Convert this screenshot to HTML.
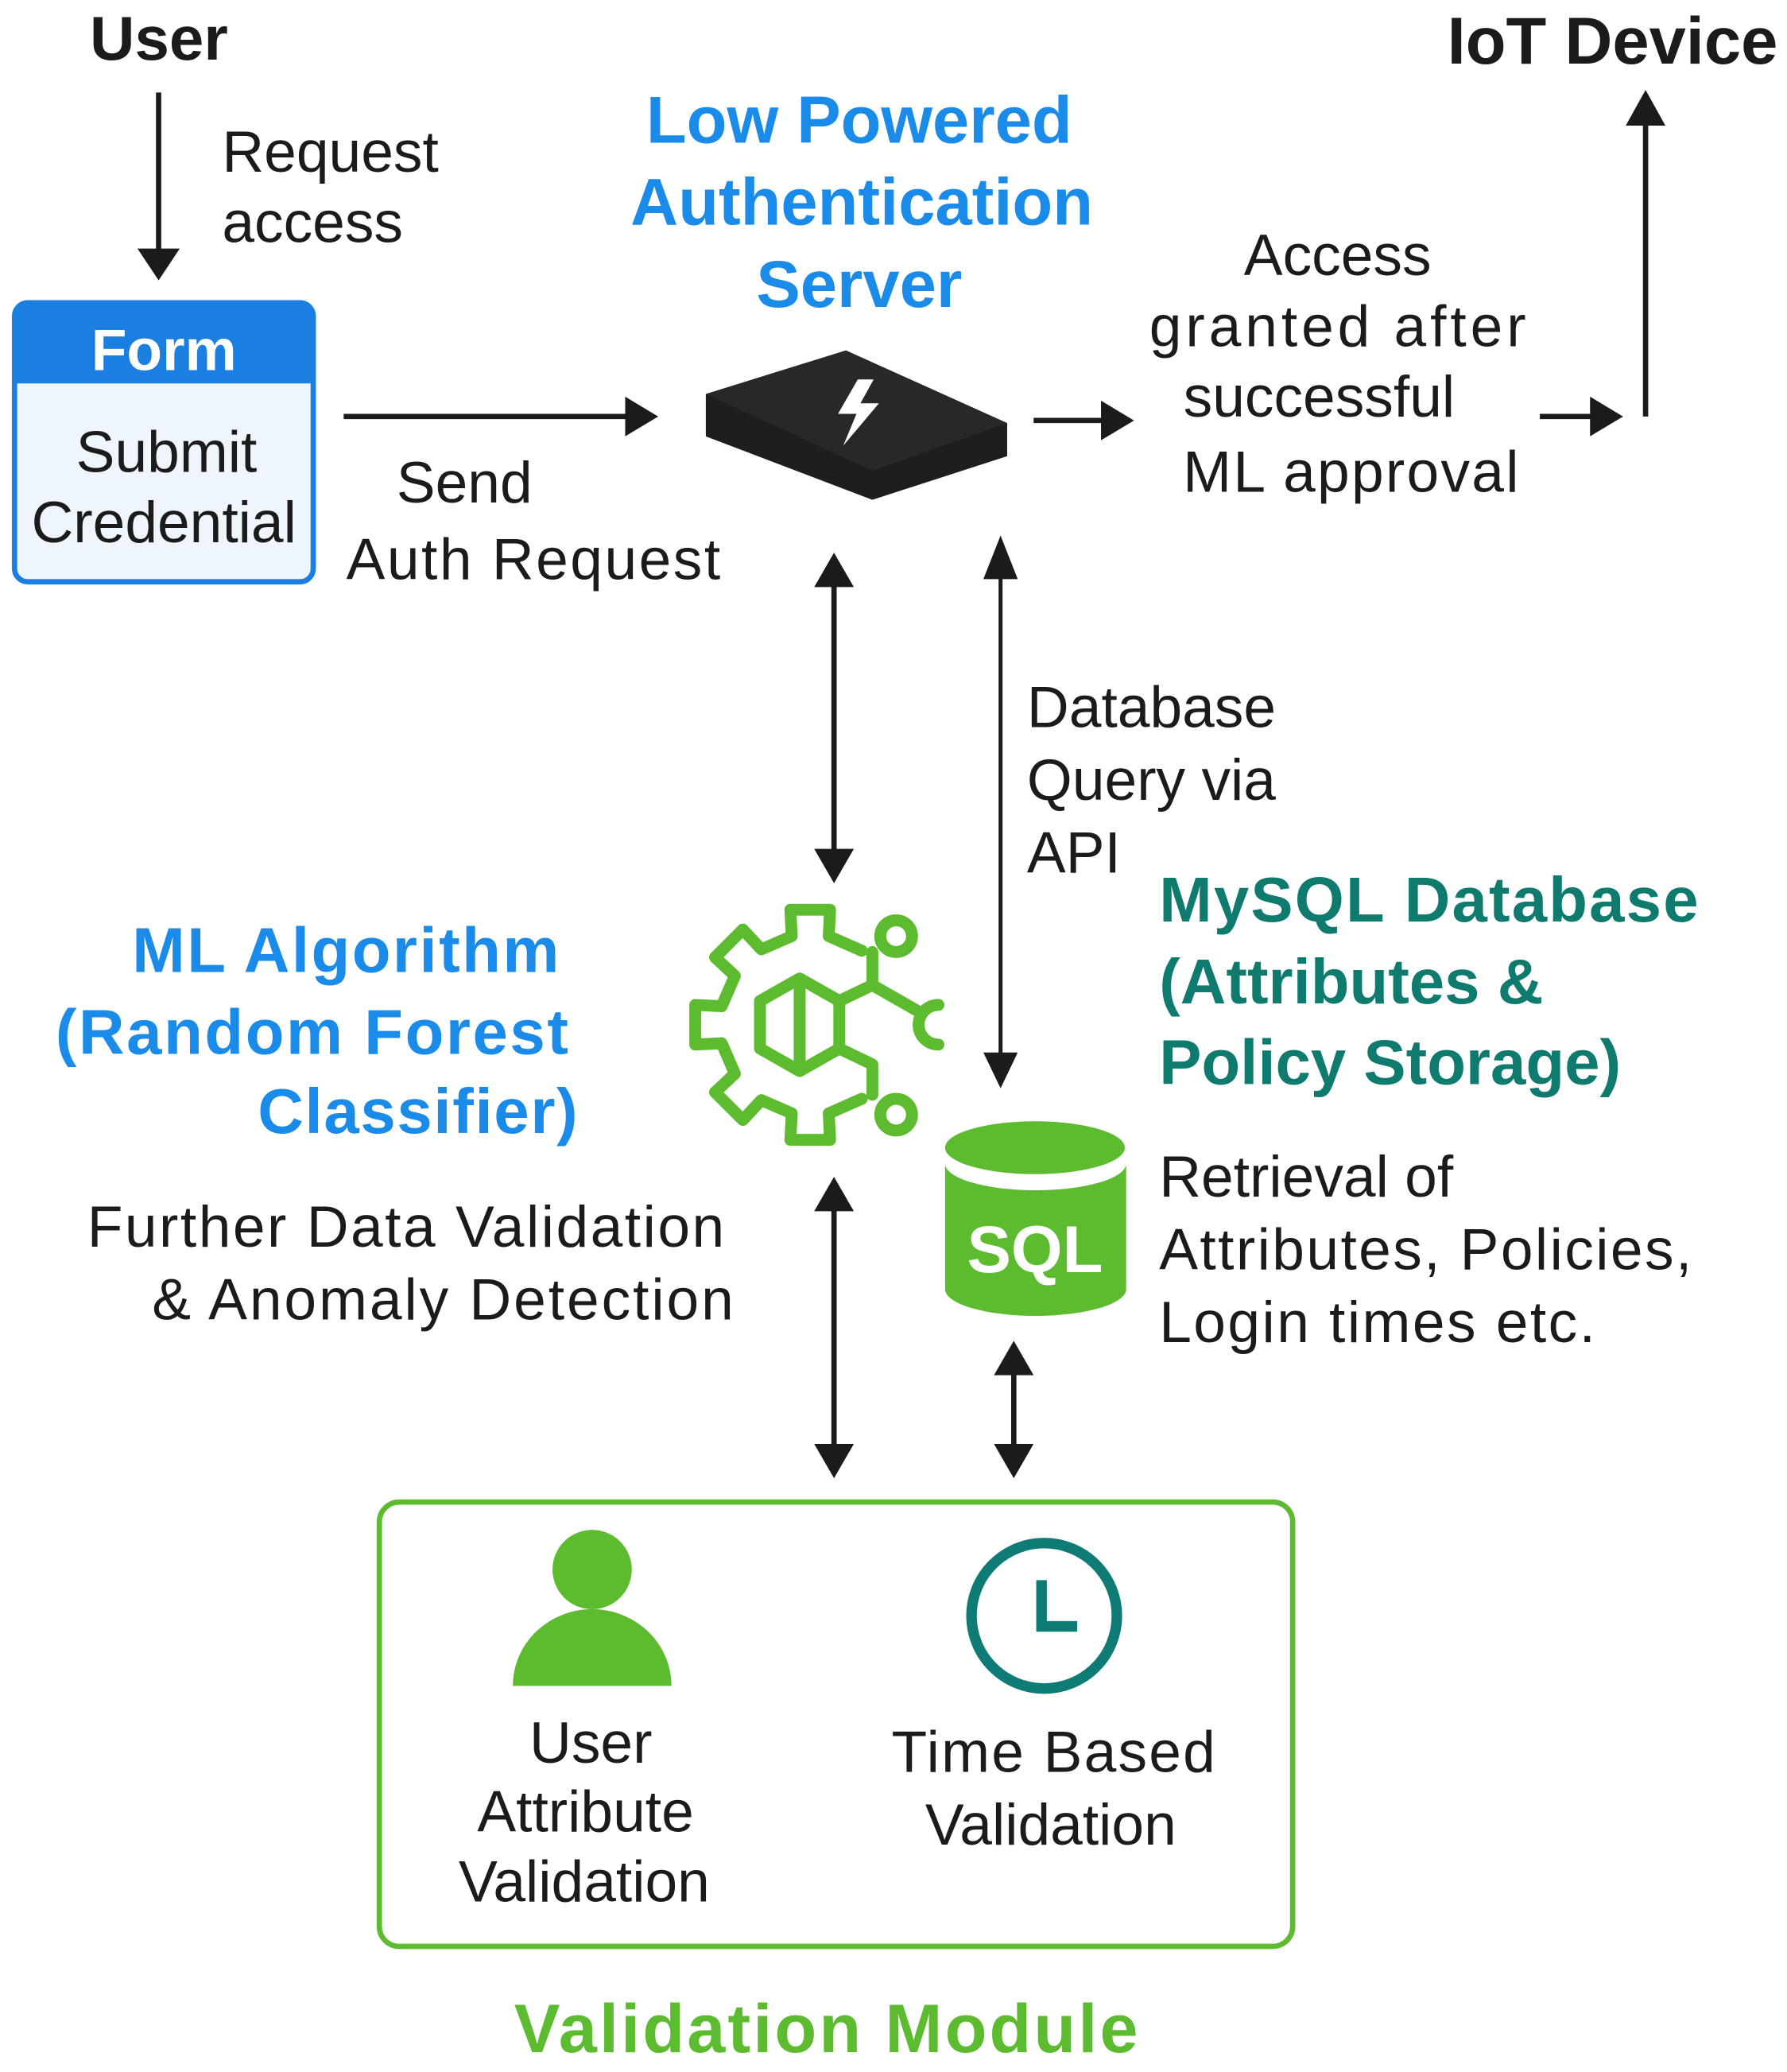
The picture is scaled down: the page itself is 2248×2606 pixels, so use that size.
<!DOCTYPE html>
<html><head><meta charset="utf-8"><style>
html,body{margin:0;padding:0;background:#fff;}
svg{display:block}
text{font-family:"Liberation Sans",sans-serif;}
</style></head><body>
<svg width="2248" height="2606" viewBox="0 0 1352 1567" preserveAspectRatio="none" xmlns="http://www.w3.org/2000/svg">
<rect width="1352" height="1567" fill="#fff"/>
<g fill="#1b1b1b" font-size="44">
<text x="68" y="45" font-weight="bold" font-size="47">User</text>
<text x="1345" y="48" font-weight="bold" font-size="50" text-anchor="end">IoT Device</text>
<text x="168" y="130">Request</text>
<text x="168" y="183">access</text>
<text x="300" y="380">Send</text>
<text x="262" y="438" textLength="283">Auth Request</text>
<g text-anchor="middle">
<text x="1012" y="208">Access</text>
<text x="1012" y="262" textLength="285">granted after</text>
<text x="998" y="315">successful</text>
<text x="1022" y="372" textLength="254">ML approval</text>
</g>
<text x="777" y="550">Database</text>
<text x="777" y="605">Query via</text>
<text x="777" y="660">API</text>
<text x="877" y="905">Retrieval of</text>
<text x="877" y="960" textLength="403">Attributes, Policies,</text>
<text x="877" y="1015" textLength="330">Login times etc.</text>
<text x="66" y="943" textLength="482">Further Data Validation</text>
<text x="115" y="998" textLength="440">&amp; Anomaly Detection</text>
<g text-anchor="middle">
<text x="447" y="1333">User</text>
<text x="443" y="1385">Attribute</text>
<text x="442" y="1438">Validation</text>
<text x="797" y="1340" textLength="245">Time Based</text>
<text x="795" y="1395">Validation</text>
</g>
</g>
<g fill="#1a8be8" font-weight="bold" font-size="50" text-anchor="middle">
<text x="650" y="108">Low Powered</text>
<text x="652" y="170">Authentication</text>
<text x="650" y="232">Server</text>
</g>
<g fill="#1a8be8" font-weight="bold" font-size="48">
<text x="100" y="735" textLength="323">ML Algorithm</text>
<text x="42" y="797" textLength="388">(Random Forest</text>
<text x="195" y="857" textLength="242">Classifier)</text>
</g>
<g fill="#0f7a6e" font-weight="bold" font-size="48">
<text x="877" y="697" textLength="408">MySQL Database</text>
<text x="877" y="759">(Attributes &amp;</text>
<text x="877" y="820">Policy Storage)</text>
</g>
<text x="625" y="1552" fill="#5cbb2e" font-weight="bold" font-size="52" text-anchor="middle" textLength="472">Validation Module</text>

<rect x="11" y="229" width="226" height="211" rx="10" fill="#eef5fc" stroke="#1a7fe0" stroke-width="4"/>
<path d="M11 290 V239 a10 10 0 0 1 10 -10 H227 a10 10 0 0 1 10 10 V290 Z" fill="#1a7fe0"/>
<text x="124" y="280" fill="#fff" font-weight="bold" font-size="44" text-anchor="middle">Form</text>
<text x="126" y="357" fill="#1b1b1b" font-size="44" text-anchor="middle">Submit</text>
<text x="124" y="410" fill="#1b1b1b" font-size="44" text-anchor="middle">Credential</text>

<g stroke="#1b1b1b" stroke-width="4" fill="none">
<line x1="120" y1="70" x2="120" y2="190"/>
<line x1="260" y1="315" x2="475" y2="315"/>
<line x1="782" y1="318" x2="835" y2="318"/>
<line x1="1165" y1="315" x2="1205" y2="315"/>
<line x1="1245" y1="315" x2="1245" y2="92"/>
<line x1="631" y1="440" x2="631" y2="645"/>
<line x1="757" y1="430" x2="757" y2="800" stroke-width="3"/>
<line x1="631" y1="912" x2="631" y2="1095"/>
<line x1="767" y1="1035" x2="767" y2="1095"/>
</g>
<g fill="#1b1b1b">
<polygon points="104,188 136,188 120,212"/>
<polygon points="473,300 473,330 498,315"/>
<polygon points="833,303 833,333 858,318"/>
<polygon points="1203,300 1203,330 1228,315"/>
<polygon points="1230,95 1260,95 1245,68"/>
<polygon points="616,444 646,444 631,418"/>
<polygon points="616,642 646,642 631,668"/>
<polygon points="744,438 770,438 757,405"/>
<polygon points="744,796 770,796 757,823"/>
<polygon points="616,916 646,916 631,890"/>
<polygon points="616,1092 646,1092 631,1118"/>
<polygon points="752,1040 782,1040 767,1014"/>
<polygon points="752,1092 782,1092 767,1118"/>
</g>

<polygon points="534,298 640,265 762,320 762,345 660,378 534,330" fill="#1e1e1e"/>
<polygon points="534,298 640,265 762,320 660,356" fill="#282828"/>
<polygon points="649,287 634,313 648,313 638,337 665,305 651,305 661,287" fill="#fff"/>

<g fill="none" stroke="#5cbb2e" stroke-width="9" stroke-linejoin="round" stroke-linecap="round">
<polyline points="652,719 627,708 628,688 598,688 599,708 576,718 562,703 541,724 556,738 546,761 526,760 526,790 546,789 556,812 541,826 562,847 576,832 599,842 598,862 628,862 627,842 652,831"/>
<polygon points="605,740 635,757 635,793 605,810 575,793 575,757"/>
<line x1="605" y1="742" x2="605" y2="808"/>
<polyline points="635,757 660,745 660,720"/>
<circle cx="678" cy="708" r="12"/>
<polyline points="660,745 695,765"/>
<path d="M710 760 A14 14 0 0 0 710 790"/>
<polyline points="635,793 660,805 660,828"/>
<circle cx="678" cy="843" r="12"/>
</g>

<path d="M715 880 V975 A68 20 0 0 0 852 975 V880 A68 20 0 0 1 715 880 Z" fill="#5cbb2e"/>
<ellipse cx="783" cy="868" rx="68" ry="20" fill="#5cbb2e"/>
<text x="783" y="962" fill="#fff" font-weight="bold" font-size="50" text-anchor="middle" font-family="DejaVu Sans, sans-serif">SQL</text>

<rect x="287" y="1136" width="691" height="336" rx="15" fill="none" stroke="#5cbb2e" stroke-width="4"/>
<circle cx="448" cy="1187" r="30" fill="#5cbb2e"/>
<path d="M388 1275 A60 58 0 0 1 508 1275 Z" fill="#5cbb2e"/>
<circle cx="790" cy="1222" r="55" fill="none" stroke="#0e7c74" stroke-width="8"/>
<polyline points="788,1195 788,1230 815,1230" fill="none" stroke="#0e7c74" stroke-width="8"/>
</svg>
</body></html>
